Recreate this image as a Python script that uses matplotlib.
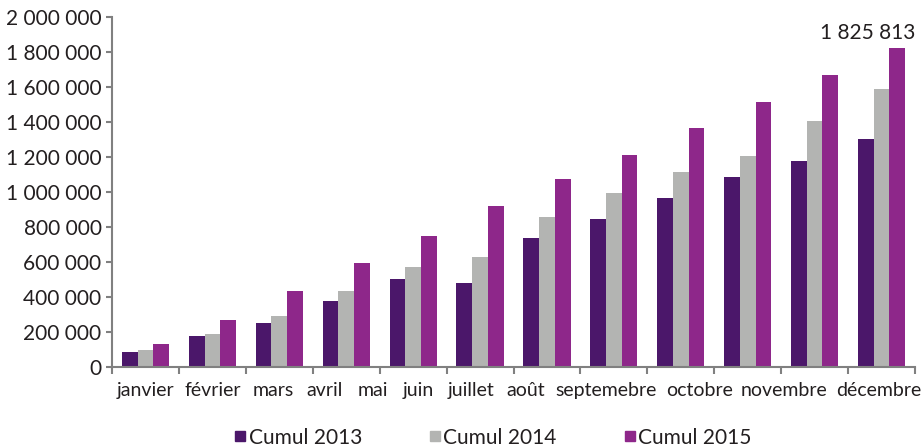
import numpy as np
import matplotlib.pyplot as plt
from matplotlib.ticker import FuncFormatter, FixedLocator
from matplotlib.lines import Line2D

plt.rcParams['font.family'] = ['Lato', 'DejaVu Sans']

months = ["janvier", "février", "mars", "avril", "mai", "juin", "juillet",
          "août", "septemebre", "octobre", "novembre", "décembre"]
cumul_2013 = [86000, 177000, 252000, 378000, 504000, 481000, 739000,
              847000, 968000, 1088000, 1177000, 1303000]
cumul_2014 = [97000, 189000, 292000, 435000, 573000, 630000, 859000,
              996000, 1116000, 1208000, 1406000, 1590000]
cumul_2015 = [132000, 269000, 435000, 595000, 750000, 922000, 1076000,
              1214000, 1368000, 1517000, 1670000, 1825813]
series_names = ["Cumul 2013", "Cumul 2014", "Cumul 2015"]
colors = ["#4b176a", "#b3b4b2", "#8e278a"]
# label positions as laid out in the original (slightly shifted)
label_pos = [0, 1.01, 1.91, 2.68, 3.40, 4.07, 4.86, 5.68, 6.89, 8.28, 9.54, 10.96]

fig = plt.figure(figsize=(9.21, 4.48), dpi=100)
ax = fig.add_axes([0.1216, 0.1808, 0.8719, 0.7806])

x = np.arange(len(months))
w = 0.235
for i, (vals, c) in enumerate(zip([cumul_2013, cumul_2014, cumul_2015], colors)):
    ax.bar(x + (i - 1) * w, vals, width=w, color=c, linewidth=0)

ax.set_xlim(-0.5, 11.5)
ax.set_ylim(0, 2000000)
ax.set_yticks(np.arange(0, 2000001, 200000))
ax.yaxis.set_major_formatter(FuncFormatter(lambda v, p: f"{v:,.0f}".replace(",", " ")))

ax.xaxis.set_major_locator(FixedLocator(np.arange(-0.5, 12, 1)))
ax.xaxis.set_minor_locator(FixedLocator(label_pos))
ax.set_xticklabels([], minor=False)
ax.set_xticklabels(months, minor=True)
ax.tick_params(axis="x", which="major", length=5, width=1.5, color="#808080")
ax.tick_params(axis="x", which="minor", length=0, pad=11, labelsize=14, labelcolor="#231f20")
ax.tick_params(axis="y", length=4, width=1.5, color="#808080", pad=3.5,
               labelsize=15, labelcolor="#231f20")

for s in ["top", "right"]:
    ax.spines[s].set_visible(False)
for s in ["left", "bottom"]:
    ax.spines[s].set_color("#808080")
    ax.spines[s].set_linewidth(1.5)

ax.annotate("1 825 813", xy=(x[-1] + w, cumul_2015[-1]), xytext=(-21, 6),
            textcoords="offset points", ha="center", va="baseline",
            fontsize=15, color="#231f20")

handles = [Line2D([], [], marker="s", linestyle="none", markersize=7, color=c)
           for c in colors]
fig.legend(handles, series_names, loc="center", bbox_to_anchor=(0.535, 0.023),
           ncol=3, frameon=False, fontsize=15, handlelength=0.6,
           handletextpad=0.1, columnspacing=3.2, labelcolor="#231f20")

fig.savefig("out.png", dpi=100)
